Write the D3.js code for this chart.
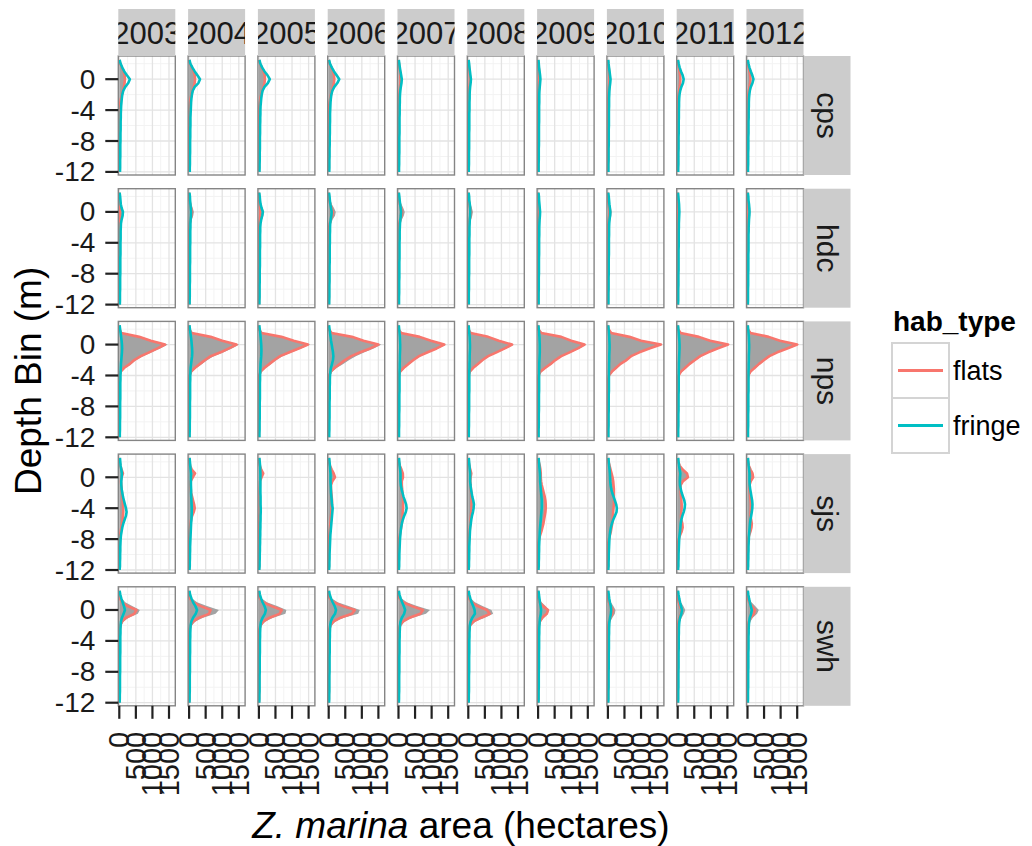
<!DOCTYPE html>
<html>
<head>
<meta charset="utf-8">
<script src="https://cdn.jsdelivr.net/npm/d3@7"></script>
<style>
  body { margin: 0; background: #ffffff; }
  text { font-family: "Liberation Sans", Arial, Helvetica, sans-serif; }
</style>
</head>
<body>
<svg id="chart" width="1032" height="846"></svg>
<script>
// Facet labels
const years = ["2003","2004","2005","2006","2007","2008","2009","2010","2011","2012"];
const regions = ["cps","hdc","nps","sjs","swh"];
const habTypes = ["flats","fringe"];

// Depth bins (m), top to bottom
const depthBins = [2.5,2,1.5,1,0.5,0,-0.5,-1,-1.5,-2,-2.5,-3,-3.5,-4,-4.5,-5,-5.5,-6,-6.5,-7,-7.5,-8,-8.5,-9,-9.5,-10,-10.5,-11,-11.5,-12];

const xTicks = [0, 500, 1000, 1500];
const xMinor = [250, 750, 1250];
const yTicks = [0, -4, -8, -12];
const yMinor = [2, -2, -6, -10];

// Z. marina area (hectares) per depth bin, one row per year
const cpsFlats = [
  [0,30,80,130,160,170,160,140,110,80,50,30,20,15,10,10,10,8,8,5,5,5,5,5,5,5,5,5,5,0],
  [0,30,90,140,170,180,170,140,100,70,45,25,15,10,10,8,8,5,5,5,5,5,5,5,5,5,5,5,5,0],
  [0,35,90,140,175,180,170,140,100,70,45,25,15,10,10,8,8,5,5,5,5,5,5,5,5,5,5,5,5,0],
  [0,30,80,130,160,170,160,130,100,70,45,25,15,10,10,8,8,5,5,5,5,5,5,5,5,5,5,5,5,0],
  [0,15,30,45,55,60,55,45,35,25,15,10,8,5,5,5,5,5,5,5,5,5,5,5,5,5,5,5,5,0],
  [0,10,25,35,45,50,45,35,25,20,12,8,5,5,5,5,5,5,5,5,5,5,5,5,5,5,5,5,5,0],
  [0,10,20,30,35,40,35,30,20,15,10,8,5,5,5,5,5,5,5,5,5,5,5,5,5,5,5,5,5,0],
  [0,10,25,35,45,50,45,35,25,18,12,8,5,5,5,5,5,5,5,5,5,5,5,5,5,5,5,5,5,0],
  [0,15,35,55,75,80,75,60,40,25,15,10,5,5,5,5,5,5,5,5,5,5,5,5,5,5,5,5,5,0],
  [0,15,35,60,80,90,80,60,40,25,15,10,5,5,5,5,5,5,5,5,5,5,5,5,5,5,5,5,5,0]
];
const cpsFringe = [
  [10,40,90,150,230,320,270,180,120,90,75,65,55,50,45,45,40,40,40,35,35,35,30,30,30,30,25,25,25,20],
  [10,40,100,170,250,330,280,170,110,85,70,60,55,50,45,40,40,40,35,35,35,30,30,30,30,25,25,25,20,20],
  [15,45,100,170,260,330,270,170,110,85,70,60,50,45,45,40,40,35,35,35,30,30,30,30,25,25,25,20,20,15],
  [10,40,95,160,240,320,260,170,110,80,65,55,50,45,40,40,40,35,35,35,30,30,30,25,25,25,20,20,20,15],
  [10,25,40,60,80,100,90,70,55,45,40,40,35,35,35,30,30,30,30,30,25,25,25,25,25,20,20,20,15,15],
  [10,25,35,50,65,80,70,55,45,40,40,35,35,35,30,30,30,30,30,25,25,25,25,25,20,20,20,20,15,15],
  [10,20,30,45,60,70,60,50,40,35,35,35,30,30,30,30,30,25,25,25,25,25,25,20,20,20,20,15,15,15],
  [10,20,35,50,65,80,70,55,45,40,35,35,35,30,30,30,30,30,25,25,25,25,25,20,20,20,20,15,15,15],
  [10,30,60,100,150,180,160,110,75,55,45,40,40,35,35,35,30,30,30,30,25,25,25,25,20,20,20,20,15,15],
  [10,30,60,100,145,180,150,100,70,55,45,40,40,35,35,35,30,30,30,30,25,25,25,25,20,20,20,20,15,15]
];
// shaded area: all habitat types together
const cpsAllHab = [
  [0,25,75,125,155,165,155,135,105,75,45,25,15,10,10,8,8,5,5,5,5,5,5,5,5,5,5,5,5,0],
  [0,25,85,135,165,175,165,135,95,65,40,20,12,8,8,5,5,5,5,5,5,5,5,5,5,5,5,5,5,0],
  [0,30,85,135,170,175,165,135,95,65,40,20,12,8,8,5,5,5,5,5,5,5,5,5,5,5,5,5,5,0],
  [0,25,75,125,155,165,155,125,95,65,40,20,12,8,8,5,5,5,5,5,5,5,5,5,5,5,5,5,5,0],
  [0,12,28,42,52,57,52,42,32,22,12,8,5,5,5,5,5,5,5,5,5,5,5,5,5,5,5,5,5,0],
  [0,8,22,32,42,47,42,32,22,18,10,6,5,5,5,5,5,5,5,5,5,5,5,5,5,5,5,5,5,0],
  [0,8,18,28,32,37,32,28,18,12,8,6,5,5,5,5,5,5,5,5,5,5,5,5,5,5,5,5,5,0],
  [0,8,22,32,42,47,42,32,22,15,10,6,5,5,5,5,5,5,5,5,5,5,5,5,5,5,5,5,5,0],
  [0,12,32,52,72,77,72,57,37,22,12,8,5,5,5,5,5,5,5,5,5,5,5,5,5,5,5,5,5,0],
  [0,12,32,57,77,87,77,57,37,22,12,8,5,5,5,5,5,5,5,5,5,5,5,5,5,5,5,5,5,0]
];

const hdcFlats = [
  [0,5,10,15,20,25,20,15,10,5,5,5,5,5,5,5,5,5,5,5,5,5,5,5,5,5,5,5,5,0],
  [0,5,15,30,60,85,70,40,20,10,5,5,5,5,5,5,5,5,5,5,5,5,5,5,5,5,5,5,5,0],
  [0,5,10,20,30,40,35,25,15,10,5,5,5,5,5,5,5,5,5,5,5,5,5,5,5,5,5,5,5,0],
  [0,5,20,45,90,125,110,60,30,15,8,5,5,5,5,5,5,5,5,5,5,5,5,5,5,5,5,5,5,0],
  [0,5,20,40,80,110,90,50,25,10,5,5,5,5,5,5,5,5,5,5,5,5,5,5,5,5,5,5,5,0],
  [0,5,15,30,55,80,65,40,20,10,5,5,5,5,5,5,5,5,5,5,5,5,5,5,5,5,5,5,5,0],
  [0,5,10,15,20,20,15,10,5,5,5,5,5,5,5,5,5,5,5,5,5,5,5,5,5,5,5,5,5,0],
  [0,5,10,20,35,50,40,25,15,8,5,5,5,5,5,5,5,5,5,5,5,5,5,5,5,5,5,5,5,0],
  [0,5,10,15,20,20,15,10,5,5,5,5,5,5,5,5,5,5,5,5,5,5,5,5,5,5,5,5,5,0],
  [0,5,10,15,25,30,25,15,10,5,5,5,5,5,5,5,5,5,5,5,5,5,5,5,5,5,5,5,5,0]
];
const hdcFringe = [
  [10,25,35,45,70,110,100,70,50,45,40,40,40,35,35,35,35,30,30,30,30,30,25,25,25,25,20,20,20,15],
  [10,25,30,40,50,60,55,45,40,40,35,35,35,35,30,30,30,30,30,25,25,25,25,25,20,20,20,20,15,15],
  [10,25,35,50,80,120,100,70,50,40,40,35,35,35,35,30,30,30,30,30,25,25,25,25,20,20,20,20,15,15],
  [10,25,35,50,70,90,80,60,45,40,40,35,35,35,30,30,30,30,30,25,25,25,25,25,20,20,20,20,15,15],
  [10,25,35,50,65,80,70,55,45,40,35,35,35,30,30,30,30,30,25,25,25,25,25,20,20,20,20,15,15,15],
  [10,25,30,45,55,60,55,45,40,35,35,35,30,30,30,30,30,25,25,25,25,25,20,20,20,20,15,15,15,15],
  [10,25,30,40,50,60,55,45,40,35,35,35,30,30,30,30,30,25,25,25,25,25,20,20,20,20,15,15,15,15],
  [10,25,35,45,60,70,65,50,40,35,35,35,30,30,30,30,30,25,25,25,25,25,20,20,20,20,15,15,15,15],
  [10,20,30,40,45,50,45,40,35,35,30,30,30,30,30,25,25,25,25,25,25,20,20,20,20,15,15,15,15,10],
  [10,25,30,45,55,60,55,45,40,35,35,30,30,30,30,30,25,25,25,25,25,20,20,20,20,15,15,15,15,10]
];
const hdcAllHab = [
  [10,30,45,60,90,135,120,85,60,50,45,45,45,40,40,40,40,35,35,35,35,35,30,30,30,30,25,25,25,15],
  [10,30,45,70,110,145,125,85,60,50,40,40,40,40,35,35,35,35,35,30,30,30,30,30,25,25,25,25,20,15],
  [10,30,45,70,110,160,135,95,65,50,45,40,40,40,40,35,35,35,35,35,30,30,30,30,25,25,25,25,20,15],
  [10,30,55,95,160,215,190,120,75,55,48,40,40,40,35,35,35,35,35,30,30,30,30,30,25,25,25,25,20,15],
  [10,30,55,90,145,190,160,105,70,50,40,40,40,35,35,35,35,35,30,30,30,30,30,25,25,25,25,20,20,15],
  [10,30,45,75,110,140,120,85,60,45,40,40,35,35,35,35,35,30,30,30,30,30,25,25,25,25,20,20,20,15],
  [10,30,40,55,70,80,70,55,45,40,40,40,35,35,35,35,35,30,30,30,30,30,25,25,25,25,20,20,20,15],
  [10,30,45,65,95,120,105,75,55,43,40,40,35,35,35,35,35,30,30,30,30,30,25,25,25,25,20,20,20,15],
  [10,25,40,55,65,70,60,50,40,40,35,35,35,35,35,30,30,30,30,30,30,25,25,25,25,20,20,20,20,10],
  [10,30,40,60,80,90,80,60,50,40,40,35,35,35,35,35,30,30,30,30,30,25,25,25,25,20,20,20,20,10]
];

const npsFlats = [
  [0,0,60,600,950,1380,1150,900,650,450,320,150,40,10,5,5,5,5,5,5,0,0,0,0,0,0,0,0,0,0],
  [0,0,80,650,1000,1430,1200,950,650,480,330,180,60,15,5,5,5,5,5,5,0,0,0,0,0,0,0,0,0,0],
  [0,0,80,680,1050,1480,1200,920,640,470,320,170,50,10,5,5,5,5,5,5,0,0,0,0,0,0,0,0,0,0],
  [0,0,90,700,1050,1500,1250,950,680,490,340,180,60,15,5,5,5,5,5,5,0,0,0,0,0,0,0,0,0,0],
  [0,0,80,640,980,1380,1150,880,620,450,300,160,50,10,5,5,5,5,5,5,0,0,0,0,0,0,0,0,0,0],
  [0,0,70,600,920,1320,1100,850,600,430,290,150,45,10,5,5,5,5,5,5,0,0,0,0,0,0,0,0,0,0],
  [0,0,100,700,1000,1400,1200,950,700,520,380,220,70,15,5,5,5,5,5,5,0,0,0,0,0,0,0,0,0,0],
  [0,20,100,650,1000,1600,1250,950,700,560,380,250,120,30,10,5,5,5,5,5,0,0,0,0,0,0,0,0,0,0],
  [0,10,90,640,980,1520,1200,920,680,520,360,230,100,25,10,5,5,5,5,5,0,0,0,0,0,0,0,0,0,0],
  [0,10,90,640,980,1500,1200,900,660,500,350,220,90,25,10,5,5,5,5,5,0,0,0,0,0,0,0,0,0,0]
];
const npsFringe = [
  [10,25,40,55,70,80,85,80,70,60,50,45,40,35,35,30,30,30,30,30,25,25,25,25,25,20,20,20,15,15],
  [10,25,40,55,70,80,90,95,90,75,60,45,40,35,35,30,30,30,30,30,25,25,25,25,25,20,20,20,15,15],
  [10,25,40,50,60,70,75,75,70,60,50,45,40,35,35,30,30,30,30,30,25,25,25,25,25,20,20,20,15,15],
  [10,25,40,55,70,90,110,130,140,130,100,70,50,40,35,35,30,30,30,30,25,25,25,25,25,20,20,20,15,15],
  [10,20,30,40,45,50,50,45,40,40,35,35,30,30,30,30,30,30,25,25,25,25,25,20,20,20,20,15,15,15],
  [10,20,30,40,45,50,50,45,40,40,35,35,30,30,30,30,30,30,25,25,25,25,25,20,20,20,20,15,15,15],
  [10,20,30,40,45,50,50,50,45,40,35,35,30,30,30,30,30,30,25,25,25,25,25,20,20,20,20,15,15,15],
  [10,20,30,40,45,50,50,45,40,40,35,35,30,30,30,30,30,30,25,25,25,25,25,20,20,20,20,15,15,15],
  [10,20,30,40,50,55,55,50,45,40,35,35,30,30,30,30,30,30,25,25,25,25,25,20,20,20,20,15,15,15],
  [10,20,30,40,45,50,50,45,40,40,35,35,30,30,30,30,30,30,25,25,25,25,25,20,20,20,20,15,15,15]
];
const npsAllHab = [
  [10,25,100,655,1020,1460,1235,980,720,510,370,195,80,45,40,35,35,35,35,35,25,25,25,25,25,20,20,20,15,15],
  [10,25,120,705,1070,1510,1290,1045,740,555,390,225,100,50,40,35,35,35,35,35,25,25,25,25,25,20,20,20,15,15],
  [10,25,120,730,1110,1550,1275,995,710,530,370,215,90,45,40,35,35,35,35,35,25,25,25,25,25,20,20,20,15,15],
  [10,25,130,755,1120,1590,1360,1080,820,620,440,250,110,55,40,40,35,35,35,35,25,25,25,25,25,20,20,20,15,15],
  [10,20,110,680,1025,1430,1200,925,660,490,335,195,80,40,35,35,35,35,30,30,25,25,25,20,20,20,20,15,15,15],
  [10,20,100,640,965,1370,1150,895,640,470,325,185,75,40,35,35,35,35,30,30,25,25,25,20,20,20,20,15,15,15],
  [10,20,130,740,1045,1450,1250,1000,745,560,415,255,100,45,35,35,35,35,30,30,25,25,25,20,20,20,20,15,15,15],
  [10,40,130,690,1045,1650,1300,995,740,600,415,285,150,60,40,35,35,35,30,30,25,25,25,20,20,20,20,15,15,15],
  [10,30,120,680,1030,1575,1255,970,725,560,395,265,130,55,40,35,35,35,30,30,25,25,25,20,20,20,20,15,15,15],
  [10,30,120,680,1025,1550,1250,945,700,540,385,255,120,55,40,35,35,35,30,30,25,25,25,20,20,20,20,15,15,15]
];

const sjsFlats = [
  [0,10,30,70,110,70,50,60,70,80,90,100,110,120,120,110,100,80,60,40,20,10,5,5,5,5,5,5,5,0],
  [0,10,30,80,180,110,50,45,50,60,90,120,150,170,140,90,60,40,25,15,10,5,5,5,5,5,5,5,5,0],
  [0,10,30,70,130,80,35,30,25,20,20,20,20,20,20,15,15,10,10,5,5,5,5,5,5,5,5,5,5,0],
  [0,10,40,90,150,190,110,70,70,80,90,100,100,90,80,70,60,50,40,30,20,10,5,5,5,5,5,5,5,0],
  [0,10,40,90,130,135,100,100,110,120,130,140,140,140,130,120,110,100,80,60,40,20,10,5,5,5,5,5,5,0],
  [0,10,30,60,90,70,60,70,80,90,100,100,100,100,90,80,70,60,50,40,25,15,10,5,5,5,5,5,5,0],
  [0,20,50,70,80,80,90,110,140,170,200,220,230,230,220,200,180,160,130,100,60,30,10,5,5,5,5,5,5,0],
  [0,20,50,80,110,140,160,170,180,180,180,180,180,170,160,150,140,130,110,90,60,30,10,5,5,5,5,5,5,0],
  [0,20,60,150,280,310,160,90,80,90,100,110,120,120,110,100,110,140,150,120,70,30,10,5,5,5,5,5,5,0],
  [0,15,40,90,150,170,100,60,60,70,80,90,100,100,90,90,110,130,120,90,50,20,10,5,5,5,5,5,5,0]
];
const sjsFringe = [
  [20,30,40,60,80,70,60,60,70,90,110,140,170,200,220,200,160,120,90,70,50,40,35,30,30,25,25,20,20,10],
  [15,25,35,45,55,55,55,55,60,60,65,70,75,80,80,75,70,60,55,50,45,40,35,30,30,25,25,20,20,10],
  [15,25,35,40,45,45,45,45,45,45,50,50,50,55,55,50,50,45,45,40,40,35,35,30,30,25,25,20,20,10],
  [15,25,35,45,55,55,55,60,65,70,80,90,100,120,110,100,90,80,70,60,50,45,40,35,30,25,25,20,20,10],
  [15,25,35,50,60,60,60,70,90,120,150,190,230,245,220,170,130,100,80,65,55,45,40,35,30,25,25,20,20,10],
  [15,25,35,45,55,55,55,65,80,100,120,150,170,160,140,110,90,75,60,50,45,40,35,30,30,25,25,20,20,10],
  [15,25,35,45,55,60,60,70,80,90,100,110,110,110,100,90,80,70,60,50,45,40,35,30,30,25,25,20,20,10],
  [15,25,35,50,60,65,70,80,100,130,170,210,250,270,260,210,160,120,90,70,55,45,40,35,30,25,25,20,20,10],
  [15,25,40,60,80,70,65,70,90,120,160,200,220,210,180,140,110,90,80,70,55,45,40,35,30,25,25,20,20,10],
  [15,25,35,50,60,60,60,65,80,100,120,140,150,145,130,110,90,75,65,55,45,40,35,30,30,25,25,20,20,10]
];
const sjsAllHab = [
  [0,5,25,65,105,65,45,55,65,75,85,95,105,115,115,105,95,75,55,35,15,5,5,5,5,5,5,5,5,0],
  [0,5,25,75,170,105,45,40,45,55,85,115,145,165,135,85,55,35,20,10,5,5,5,5,5,5,5,5,5,0],
  [0,5,25,65,125,75,30,25,20,15,15,15,15,15,15,10,10,5,5,5,5,5,5,5,5,5,5,5,5,0],
  [0,5,35,85,145,185,105,65,65,75,85,95,95,85,75,65,55,45,35,25,15,5,5,5,5,5,5,5,5,0],
  [0,5,35,85,125,130,95,95,105,115,125,135,135,135,125,115,105,95,75,55,35,15,5,5,5,5,5,5,5,0],
  [0,5,25,55,85,65,55,65,75,85,95,95,95,95,85,75,65,55,45,35,20,10,5,5,5,5,5,5,5,0],
  [0,15,45,65,75,75,85,105,135,165,195,215,225,225,215,195,175,155,125,95,55,25,5,5,5,5,5,5,5,0],
  [0,15,45,75,105,135,155,165,175,175,175,175,175,165,155,145,135,125,105,85,55,25,5,5,5,5,5,5,5,0],
  [0,15,55,145,275,305,155,85,75,85,95,105,115,115,105,95,105,135,145,115,65,25,5,5,5,5,5,5,5,0],
  [0,10,35,85,145,165,95,55,55,65,75,85,95,95,85,85,105,125,115,85,45,15,5,5,5,5,5,5,5,0]
];

const swhFlats = [
  [0,0,20,80,250,520,450,200,80,30,15,10,5,5,5,5,5,5,5,5,5,5,5,5,5,5,5,5,5,0],
  [0,0,20,120,350,650,600,300,120,40,15,10,5,5,5,5,5,5,5,5,5,5,5,5,5,5,5,5,5,0],
  [0,0,25,130,380,690,620,320,130,45,15,10,5,5,5,5,5,5,5,5,5,5,5,5,5,5,5,5,5,0],
  [0,0,30,150,420,790,700,350,140,50,20,10,5,5,5,5,5,5,5,5,5,5,5,5,5,5,5,5,5,0],
  [0,0,30,140,400,740,660,330,130,45,15,10,5,5,5,5,5,5,5,5,5,5,5,5,5,5,5,5,5,0],
  [0,0,20,100,280,560,650,380,150,50,20,10,5,5,5,5,5,5,5,5,5,5,5,5,5,5,5,5,5,0],
  [0,0,10,50,150,300,260,120,50,20,10,5,5,5,5,5,5,5,5,5,5,5,5,5,5,5,5,5,5,0],
  [0,0,10,30,80,150,130,70,30,15,10,5,5,5,5,5,5,5,5,5,5,5,5,5,5,5,5,5,5,0],
  [0,0,10,30,70,120,100,50,25,10,5,5,5,5,5,5,5,5,5,5,5,5,5,5,5,5,5,5,5,0],
  [0,0,15,50,130,225,190,90,40,15,10,5,5,5,5,5,5,5,5,5,5,5,5,5,5,5,5,5,5,0]
];
const swhFringe = [
  [10,30,60,100,140,170,130,80,50,40,35,35,30,30,30,30,30,25,25,25,25,25,20,20,20,20,20,15,15,10],
  [10,30,70,120,190,240,200,120,70,45,40,35,35,30,30,30,30,25,25,25,25,25,20,20,20,20,20,15,15,10],
  [10,30,65,110,170,210,180,110,65,45,40,35,35,30,30,30,30,25,25,25,25,25,20,20,20,20,20,15,15,10],
  [10,30,70,120,180,220,190,110,65,45,40,35,35,30,30,30,30,25,25,25,25,25,20,20,20,20,20,15,15,10],
  [10,30,65,110,160,200,170,100,60,45,40,35,35,30,30,30,30,25,25,25,25,25,20,20,20,20,20,15,15,10],
  [10,30,60,100,150,190,200,120,70,45,40,35,35,30,30,30,30,25,25,25,25,25,20,20,20,20,20,15,15,10],
  [10,25,40,55,75,90,80,60,45,40,35,35,30,30,30,30,25,25,25,25,25,20,20,20,20,20,15,15,15,10],
  [10,25,40,60,85,100,90,65,45,40,35,35,30,30,30,30,25,25,25,25,25,20,20,20,20,20,15,15,15,10],
  [10,25,45,70,100,130,110,70,50,40,35,35,30,30,30,30,25,25,25,25,25,20,20,20,20,20,15,15,15,10],
  [10,25,45,70,100,130,110,70,50,40,35,35,30,30,30,30,25,25,25,25,25,20,20,20,20,20,15,15,15,10]
];
const swhAllHab = [
  [10,30,80,180,390,620,560,280,130,70,50,45,35,35,35,35,35,30,30,30,30,30,25,25,25,25,25,20,20,10],
  [10,30,90,240,540,900,800,420,190,85,55,45,40,35,35,35,35,30,30,30,30,30,25,25,25,25,25,20,20,10],
  [10,30,90,240,550,830,800,430,195,90,55,45,40,35,35,35,35,30,30,30,30,30,25,25,25,25,25,20,20,10],
  [10,30,100,270,600,940,890,460,205,95,60,45,40,35,35,35,35,30,30,30,30,30,25,25,25,25,25,20,20,10],
  [10,30,95,250,560,950,830,430,190,90,55,45,40,35,35,35,35,30,30,30,30,30,25,25,25,25,25,20,20,10],
  [10,30,80,200,430,700,750,500,220,95,60,45,40,35,35,35,35,30,30,30,30,30,25,25,25,25,25,20,20,10],
  [10,25,50,105,225,320,300,180,95,60,45,40,35,35,35,35,30,30,30,30,30,25,25,25,25,25,20,20,20,10],
  [10,25,50,90,165,230,210,135,75,55,45,40,35,35,35,35,30,30,30,30,30,25,25,25,25,25,20,20,20,10],
  [10,25,55,100,170,230,190,120,75,50,40,40,35,35,35,35,30,30,30,30,30,25,25,25,25,25,20,20,20,10],
  [10,25,60,120,230,340,290,160,90,55,45,40,35,35,35,35,30,30,30,30,30,25,25,25,25,25,20,20,20,10]
];

const flatsByRegion = { cps: cpsFlats, hdc: hdcFlats, nps: npsFlats, sjs: sjsFlats, swh: swhFlats };
const fringeByRegion = { cps: cpsFringe, hdc: hdcFringe, nps: npsFringe, sjs: sjsFringe, swh: swhFringe };
const allByRegion = { cps: cpsAllHab, hdc: hdcAllHab, nps: npsAllHab, sjs: sjsAllHab, swh: swhAllHab };

const colors = { flats: "#F8766D", fringe: "#00BFC4" };

// Facet grid geometry
const panelW = 57, panelH = 119;
const colStep = 69.8, rowStep = 132.7;
const left0 = 118.3, top0 = 56;
const stripSize = 47;

const svg = d3.select("#chart");

const x = d3.scaleLinear().domain([-30, 1690]).range([0, panelW]);
const y = d3.scaleLinear().domain([3.0, -12.4]).range([0, panelH]);

const area = d3.area()
  .y(d => y(d.depth))
  .x0(x(0))
  .x1(d => x(d.all));
const line = d3.line()
  .y(d => y(d.depth))
  .x(d => x(d.value));

const defs = svg.append("defs");
defs.append("clipPath").attr("id", "panel-clip")
  .append("rect").attr("width", panelW).attr("height", panelH);
defs.append("clipPath").attr("id", "strip-top-clip")
  .append("rect").attr("width", panelW).attr("height", stripSize);

regions.forEach((reg, r) => {
  years.forEach((yr, c) => {
    const px = left0 + c * colStep, py = top0 + r * rowStep;
    const g = svg.append("g").attr("transform", `translate(${px},${py})`);

    g.append("rect").attr("width", panelW).attr("height", panelH).attr("fill", "#ffffff");

    // grid
    g.selectAll(".gx-min").data(xMinor).join("line")
      .attr("x1", d => x(d)).attr("x2", d => x(d)).attr("y1", 0).attr("y2", panelH)
      .attr("stroke", "#f3f3f3").attr("stroke-width", 1);
    g.selectAll(".gy-min").data(yMinor).join("line")
      .attr("y1", d => y(d)).attr("y2", d => y(d)).attr("x1", 0).attr("x2", panelW)
      .attr("stroke", "#f3f3f3").attr("stroke-width", 1);
    g.selectAll(".gx").data(xTicks).join("line")
      .attr("x1", d => x(d)).attr("x2", d => x(d)).attr("y1", 0).attr("y2", panelH)
      .attr("stroke", "#e3e3e3").attr("stroke-width", 1.3);
    g.selectAll(".gy").data(yTicks).join("line")
      .attr("y1", d => y(d)).attr("y2", d => y(d)).attr("x1", 0).attr("x2", panelW)
      .attr("stroke", "#e3e3e3").attr("stroke-width", 1.3);

    const flats = flatsByRegion[reg][c];
    const fringe = fringeByRegion[reg][c];
    const all = allByRegion[reg][c];
    const rows = depthBins.map((d, i) => ({ depth: d, flats: flats[i], fringe: fringe[i], all: all[i] }));

    const marks = g.append("g").attr("clip-path", "url(#panel-clip)");
    marks.append("path").datum(rows).attr("d", area)
      .attr("fill", "#a3a3a3").attr("stroke", "none");
    habTypes.forEach(h => {
      marks.append("path")
        .datum(rows.map(d => ({ depth: d.depth, value: d[h] })))
        .attr("d", line)
        .attr("fill", "none")
        .attr("stroke", colors[h])
        .attr("stroke-width", 2.6)
        .attr("stroke-linejoin", "round");
    });

    g.append("rect").attr("width", panelW).attr("height", panelH)
      .attr("fill", "none").attr("stroke", "#858585").attr("stroke-width", 1.4);
  });
});

// top strips
years.forEach((yr, c) => {
  const px = left0 + c * colStep;
  const g = svg.append("g").attr("transform", `translate(${px},${top0 - stripSize})`);
  g.append("rect").attr("width", panelW).attr("height", stripSize).attr("fill", "#cccccc");
  g.append("g").attr("clip-path", "url(#strip-top-clip)")
    .append("text").attr("x", panelW / 2).attr("y", stripSize / 2 + 1)
    .attr("text-anchor", "middle").attr("dominant-baseline", "central")
    .attr("font-size", 31).attr("fill", "#1a1a1a").text(yr);
});

// right strips
const stripX = left0 + 9 * colStep + panelW;
regions.forEach((reg, r) => {
  const py = top0 + r * rowStep;
  svg.append("rect").attr("x", stripX).attr("y", py).attr("width", stripSize).attr("height", panelH)
    .attr("fill", "#cccccc");
  svg.append("text")
    .attr("transform", `translate(${stripX + stripSize / 2},${py + panelH / 2}) rotate(90)`)
    .attr("text-anchor", "middle").attr("dominant-baseline", "central")
    .attr("font-size", 30).attr("fill", "#1a1a1a").text(reg);
});

// y axis ticks and labels
regions.forEach((reg, r) => {
  const py = top0 + r * rowStep;
  const g = svg.append("g").attr("transform", `translate(${left0},${py})`);
  g.selectAll("line").data(yTicks).join("line")
    .attr("x1", -13).attr("x2", 0).attr("y1", d => y(d)).attr("y2", d => y(d))
    .attr("stroke", "#222").attr("stroke-width", 2.2);
  g.selectAll("text").data(yTicks).join("text")
    .attr("x", -23).attr("y", d => y(d))
    .attr("text-anchor", "end").attr("dominant-baseline", "central")
    .attr("font-size", 28).attr("fill", "#1a1a1a").text(d => d);
});

// x axis ticks and labels
const bottom = top0 + 4 * rowStep + panelH;
years.forEach((yr, c) => {
  const px = left0 + c * colStep;
  const g = svg.append("g").attr("transform", `translate(${px},${bottom})`);
  g.selectAll("line").data(xTicks).join("line")
    .attr("x1", d => x(d)).attr("x2", d => x(d)).attr("y1", 0).attr("y2", 13)
    .attr("stroke", "#222").attr("stroke-width", 2.2);
  g.selectAll("text").data(xTicks).join("text")
    .attr("transform", d => `translate(${x(d)},26) rotate(-90)`)
    .attr("text-anchor", "end").attr("dominant-baseline", "central")
    .attr("font-size", 29).attr("fill", "#1a1a1a").text(d => d);
});

// axis titles
svg.append("text")
  .attr("transform", `translate(41,${top0 + (4 * rowStep + panelH) / 2}) rotate(-90)`)
  .attr("text-anchor", "middle").attr("font-size", 37).attr("fill", "#000").text("Depth Bin (m)");

const xt = svg.append("text")
  .attr("x", left0 + (9 * colStep + panelW) / 2).attr("y", 838)
  .attr("text-anchor", "middle").attr("font-size", 37).attr("fill", "#000");
xt.append("tspan").attr("font-style", "italic").text("Z. marina");
xt.append("tspan").text(" area (hectares)");

// legend
const lg = svg.append("g").attr("transform", "translate(892,0)");
lg.append("text").attr("x", 1).attr("y", 331).attr("font-size", 28).attr("font-weight", "bold")
  .attr("fill", "#000").text("hab_type");
habTypes.forEach((h, i) => {
  const ky = 343 + i * 55;
  lg.append("rect").attr("x", 0).attr("y", ky).attr("width", 57).attr("height", 55)
    .attr("fill", "#ffffff").attr("stroke", "#d4d4d4").attr("stroke-width", 2);
  lg.append("line").attr("x1", 6).attr("x2", 51).attr("y1", ky + 27.5).attr("y2", ky + 27.5)
    .attr("stroke", colors[h]).attr("stroke-width", 3);
  lg.append("text").attr("x", 61).attr("y", ky + 27.5).attr("dominant-baseline", "central")
    .attr("font-size", 27).attr("fill", "#000").text(h);
});
</script>
</body>
</html>
